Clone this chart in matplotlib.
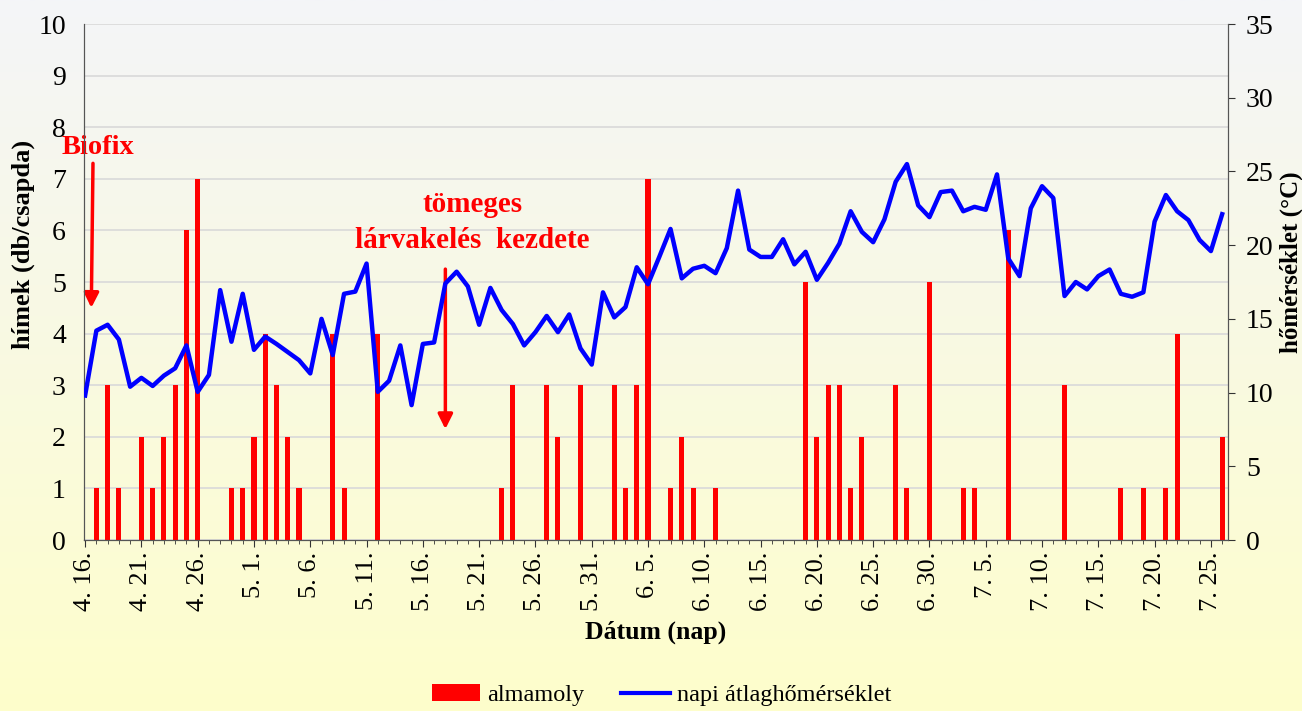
import matplotlib
matplotlib.use("Agg")
import matplotlib.pyplot as plt
import numpy as np
import pandas as pd
from matplotlib.colors import LinearSegmentedColormap
from matplotlib.lines import Line2D
from matplotlib.patches import Patch

plt.rcParams["font.family"] = ["Liberation Serif", "DejaVu Serif"]

dates = pd.date_range("2012-04-16", "2012-07-26", freq="D")

# almamoly hímek (db/csapda), one value per day
almamoly = [
    0, 1, 3, 1, 0, 2, 1, 2, 3, 6,
    7, 0, 0, 1, 1, 2, 4, 3, 2, 1,
    0, 0, 4, 1, 0, 0, 4, 0, 0, 0,
    0, 0, 0, 0, 0, 0, 0, 1, 3, 0,
    0, 3, 2, 0, 3, 0, 0, 3, 1, 3,
    7, 0, 1, 2, 1, 0, 1, 0, 0, 0,
    0, 0, 0, 0, 5, 2, 3, 3, 1, 2,
    0, 0, 3, 1, 0, 5, 0, 0, 1, 1,
    0, 0, 6, 0, 0, 0, 0, 3, 0, 0,
    0, 0, 1, 0, 1, 0, 1, 4, 0, 0,
    0, 2,
]

# napi átlaghőmérséklet (°C)
homerseklet = [
    9.8, 14.2, 14.6, 13.6, 10.4, 11.0, 10.45, 11.15, 11.65, 13.2,
    10.05, 11.2, 16.95, 13.45, 16.7, 12.9, 13.8, 13.3, 12.75, 12.2,
    11.3, 15.0, 12.55, 16.7, 16.85, 18.75, 10.05, 10.8, 13.2, 9.15,
    13.3, 13.4, 17.4, 18.2, 17.2, 14.6, 17.1, 15.6, 14.65, 13.2,
    14.1, 15.2, 14.1, 15.3, 13.0, 11.9, 16.8, 15.1, 15.8, 18.5,
    17.35, 19.2, 21.1, 17.75, 18.4, 18.6, 18.1, 19.8, 23.7, 19.7,
    19.2, 19.2, 20.4, 18.7, 19.55, 17.65, 18.8, 20.1, 22.3, 20.9,
    20.2, 21.75, 24.3, 25.5, 22.7, 21.9, 23.6, 23.7, 22.3, 22.6,
    22.4, 24.8, 19.1, 17.9, 22.5, 24.0, 23.2, 16.55, 17.5, 17.0,
    17.9, 18.35, 16.7, 16.5, 16.8, 21.6, 23.4, 22.3, 21.7, 20.35,
    19.6, 22.1,
]

tick_labels = [f"{d.month}. {d.day}." for d in dates]
x = np.arange(len(dates))

fig = plt.figure(figsize=(13.02, 7.11), dpi=100)

# background gradient (grayish white at top -> pale yellow at bottom)
bg = fig.add_axes([0, 0, 1, 1], zorder=-10)
cmap = LinearSegmentedColormap.from_list("bg", ["#f4f5f8", "#fefecb"])
bg.imshow(np.linspace(0, 1, 256).reshape(-1, 1), aspect="auto", cmap=cmap,
          extent=[0, 1, 0, 1])
bg.axis("off")

ax = fig.add_axes([0.0645, 0.2405, 0.8785, 0.7257])
ax.set_facecolor("none")
ax2 = ax.twinx()

ax.bar(x, almamoly, width=0.45, color="#ff0000", zorder=3)
ax2.plot(x, homerseklet, color="#0000ff", lw=3.2, zorder=4)

ax.set_xlim(-0.1, 101.5)
ax.set_ylim(0, 10)
ax2.set_ylim(0, 35)
ax.set_yticks(range(0, 11))
ax2.set_yticks(range(0, 36, 5))
ax.grid(axis="y", color="#d9d9d9", lw=1.2, zorder=0)
ax.set_axisbelow(True)

ax.set_xticks(x[::5])
ax.set_xticklabels(tick_labels[::5], rotation=90, fontsize=19)
ax.set_xticks(x, minor=True)
ax.tick_params(axis="x", which="major", length=5, direction="out", color="#333333")
ax.tick_params(axis="x", which="minor", length=3, direction="out", color="#333333")
ax.tick_params(axis="y", length=0, labelsize=20, pad=13)
ax2.tick_params(axis="y", length=5, labelsize=20, pad=8, color="#333333")

ax.spines["top"].set_visible(False)
ax2.spines["top"].set_visible(False)
for a in (ax, ax2):
    for s in ["left", "right", "bottom"]:
        a.spines[s].set_color("#555555")

ax.set_ylabel("hímek (db/csapda)", fontsize=19, fontweight="bold")
ax.yaxis.set_label_coords(-0.043, 0.572)
ax2.set_ylabel("hőmérséklet (°C)", fontsize=18, fontweight="bold")
ax2.yaxis.set_label_coords(1.045, 0.539)
ax.set_xlabel("Dátum (nap)", fontsize=18.5, fontweight="bold", labelpad=7)

# annotations
ax.text(-2.1, 7.6, "Biofix", color="#ff0000", fontsize=20.5, fontweight="bold",
        ha="left", va="center")
ax.annotate("", xy=(0.55, 4.5), xytext=(0.7, 7.3),
            arrowprops=dict(arrowstyle="-|>", color="#ff0000", lw=2.5,
                            mutation_scale=22, shrinkA=0, shrinkB=0))
ax.text(34.4, 6.5, "tömeges", color="#ff0000", fontsize=21,
        fontweight="bold", ha="center", va="center")
ax.text(34.4, 5.8, "lárvakelés  kezdete", color="#ff0000", fontsize=21,
        fontweight="bold", ha="center", va="center")
ax.annotate("", xy=(32.0, 2.15), xytext=(32.0, 5.25),
            arrowprops=dict(arrowstyle="-|>", color="#ff0000", lw=2.5,
                            mutation_scale=22, shrinkA=0, shrinkB=0))

handles = [Patch(facecolor="#ff0000", label="almamoly"),
           Line2D([], [], color="#0000ff", lw=3, label="napi átlaghőmérséklet")]
fig.legend(handles=handles, loc="center", bbox_to_anchor=(0.508, 0.022), ncol=2,
           frameon=False, fontsize=17.5, handlelength=2.0, handleheight=0.7,
           handletextpad=0.3, columnspacing=1.5)

fig.savefig("out.png", dpi=100)
